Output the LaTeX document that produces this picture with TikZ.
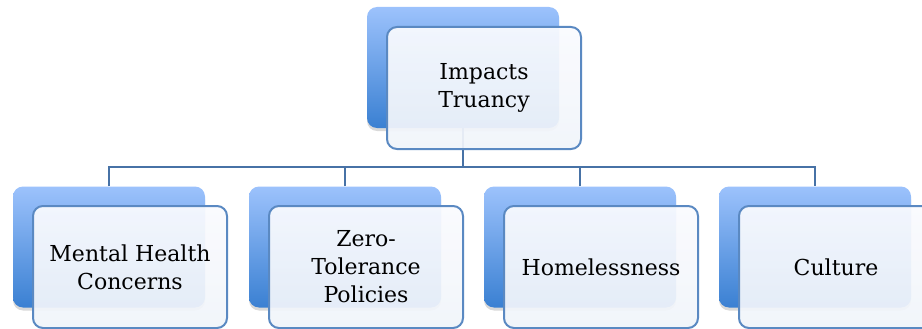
\documentclass[tikz,border=0pt]{standalone}
\usepackage{fontspec}
\setmainfont{DejaVu Serif}
\usetikzlibrary{shadows}
\definecolor{bluetop}{HTML}{9CC2FC}
\definecolor{bluebot}{HTML}{3A80D2}
\definecolor{frameblue}{HTML}{5A89C2}
\definecolor{linkblue}{HTML}{4772A6}
\definecolor{paletop}{HTML}{FAFBFE}
\definecolor{palebot}{HTML}{F0F4FA}
\tikzset{
  backbox/.style={rectangle, rounded corners=10pt, minimum width=192pt, minimum height=121pt,
    top color=bluetop, bottom color=bluebot, draw=none,
    drop shadow={shadow xshift=0pt, shadow yshift=-3pt, opacity=0.3}},
  frontbox/.style={rectangle, rounded corners=10pt, minimum width=194pt, minimum height=122pt,
    top color=paletop, bottom color=palebot, fill opacity=0.93, draw=frameblue, line width=2pt,
    text opacity=1, align=center, font=\fontsize{22}{28}\selectfont, inner sep=2pt},
  link/.style={draw=linkblue, line width=1.7pt}
}
\begin{document}
\begin{tikzpicture}[x=1pt,y=-1pt]
\useasboundingbox (0,0) rectangle (922,329);
% back boxes
\node[backbox] (tb) at (463,67.5) {};
\node[backbox] (b1) at (109,247) {};
\node[backbox] (b2) at (345,247) {};
\node[backbox] (b3) at (580,247) {};
\node[backbox] (b4) at (815,247) {};
% connectors
\coordinate (hub) at (463,167);
\draw[link] (tb.south) -- (hub);
\draw[link] (b1.north) |- (hub) -| (b4.north);
\draw[link] (b2.north) -- (b2.north |- hub);
\draw[link] (b3.north) -- (b3.north |- hub);
% front boxes
\node[frontbox] (tf) at (484,88) {Impacts\\Truancy};
\node[frontbox] (f1) at (130,267) {Mental Health\\Concerns};
\node[frontbox] (f2) at (366,267) {Zero-\\Tolerance\\Policies};
\node[frontbox] (f3) at (601,267) {Homelessness};
\node[frontbox] (f4) at (836,267) {Culture};
\end{tikzpicture}
\end{document}
